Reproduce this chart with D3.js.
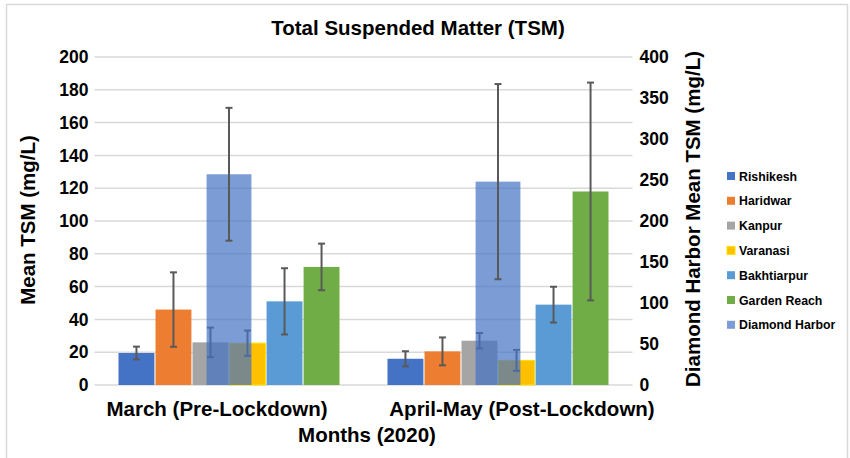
<!DOCTYPE html>
<html>
<head>
<meta charset="utf-8">
<script src="https://cdn.jsdelivr.net/npm/d3@7"></script>
<style>
  html, body { margin: 0; padding: 0; background: #fff; }
  svg text { font-family: "Liberation Sans", Arial, sans-serif; font-weight: bold; fill: #000; }
</style>
</head>
<body>
<div id="chart"></div>
<script>
// categories and series
const months = ["March (Pre-Lockdown)", "April-May (Post-Lockdown)"];
const sites = ["Rishikesh", "Haridwar", "Kanpur", "Varanasi", "Bakhtiarpur", "Garden Reach"];
const siteColors = ["#4472C4", "#ED7D31", "#A5A5A5", "#FFC000", "#5B9BD5", "#70AD47"];

// primary axis values (mg/L), one entry per site
const meanMarch = [19.5, 46, 26, 25.5, 51, 72];
const errMarch  = [3.9, 22.7, 9, 7.7, 20.2, 14.2];
const meanApril = [16, 20.5, 27, 15, 49, 118];
const errApril  = [4.6, 8.5, 4.7, 6.4, 10.9, 66.4];

// secondary axis (Diamond Harbor), one entry per month
const diamondMean = [257, 248];
const diamondErr  = [81, 119];

const leftTicks = [0, 20, 40, 60, 80, 100, 120, 140, 160, 180, 200];
const rightTicks = [0, 50, 100, 150, 200, 250, 300, 350, 400];

const width = 850, height = 458;
const plot = { left: 94.5, right: 632.5, top: 57, bottom: 385 };

const svg = d3.select("#chart").append("svg")
  .attr("width", width)
  .attr("height", height);

// chart frame
svg.append("rect")
  .attr("x", 6.5).attr("y", 4.5)
  .attr("width", 841).attr("height", 470)
  .attr("fill", "#fff")
  .attr("stroke", "#D9D9D9")
  .attr("stroke-width", 1.5);

const y = d3.scaleLinear().domain([0, 200]).range([plot.bottom, plot.top]);
const y2 = d3.scaleLinear().domain([0, 400]).range([plot.bottom, plot.top]);

const x0 = d3.scaleBand().domain(months).range([plot.left, plot.right]);
const groupWidth = 221;
const x1 = d3.scaleBand().domain(sites).range([0, groupWidth]).paddingInner(0.03);
const dWidth = x0.bandwidth() / 6;

// gridlines
svg.append("g")
  .selectAll("line")
  .data(leftTicks)
  .enter().append("line")
  .attr("x1", plot.left).attr("x2", plot.right)
  .attr("y1", d => y(d)).attr("y2", d => y(d))
  .attr("stroke", "#D9D9D9")
  .attr("stroke-width", 1.5);

// left axis labels
svg.append("g")
  .attr("transform", `translate(${plot.left - 6},0)`)
  .call(d3.axisLeft(y).tickValues(leftTicks).tickSize(0).tickPadding(0))
  .call(g => g.select(".domain").remove())
  .selectAll("text")
  .style("font-size", "17.5px");

// right axis labels
svg.append("g")
  .attr("transform", `translate(${plot.right + 7},0)`)
  .call(d3.axisRight(y2).tickValues(rightTicks).tickSize(0).tickPadding(0))
  .call(g => g.select(".domain").remove())
  .selectAll("text")
  .style("font-size", "17.5px");

svg.selectAll(".tick text").attr("fill", "#000");

// primary bars
const rows = [];
months.forEach((m, mi) => {
  const means = mi === 0 ? meanMarch : meanApril;
  const errs = mi === 0 ? errMarch : errApril;
  sites.forEach((s, si) => rows.push({ month: m, site: s, i: si, v: means[si], e: errs[si] }));
});

const gx = m => x0(m) + (x0.bandwidth() - groupWidth) / 2;

svg.append("g")
  .selectAll("rect")
  .data(rows)
  .enter().append("rect")
  .attr("x", d => gx(d.month) + x1(d.site))
  .attr("y", d => y(d.v))
  .attr("width", x1.bandwidth())
  .attr("height", d => y(0) - y(d.v))
  .attr("fill", d => siteColors[d.i])
  .attr("stroke", d => d.site === "Varanasi" ? "#FFE000" : "none")
  .attr("stroke-width", 1);

function errorBars(sel, data, cx, yScale) {
  const g = sel.append("g").attr("stroke", "#595959").attr("stroke-width", 2);
  data.forEach(d => {
    const x = cx(d);
    g.append("line").attr("x1", x).attr("x2", x)
      .attr("y1", yScale(d.v - d.e)).attr("y2", yScale(d.v + d.e));
    [d.v - d.e, d.v + d.e].forEach(v => {
      g.append("line").attr("x1", x - 3.5).attr("x2", x + 3.5)
        .attr("y1", yScale(v)).attr("y2", yScale(v));
    });
  });
}

errorBars(svg, rows, d => gx(d.month) + x1(d.site) + x1.bandwidth() / 2, y);

// Diamond Harbor on secondary axis, drawn over the rest
const drows = months.map((m, i) => ({ month: m, v: diamondMean[i], e: diamondErr[i] }));

svg.append("g")
  .selectAll("rect")
  .data(drows)
  .enter().append("rect")
  .attr("x", d => x0(d.month) + x0.bandwidth() / 2 - dWidth / 2)
  .attr("y", d => y2(d.v))
  .attr("width", dWidth)
  .attr("height", d => y2(0) - y2(d.v))
  .attr("fill", "#4472C4")
  .attr("fill-opacity", 0.7);

errorBars(svg, drows, d => x0(d.month) + x0.bandwidth() / 2, y2);

// category labels
const labelShift = [-12, 24];
svg.append("g")
  .selectAll("text")
  .data(months)
  .enter().append("text")
  .attr("x", (d, i) => x0(d) + x0.bandwidth() / 2 + labelShift[i])
  .attr("y", 416)
  .attr("text-anchor", "middle")
  .style("font-size", "20.5px")
  .text(d => d);

// titles
svg.append("text")
  .attr("x", 418).attr("y", 35)
  .attr("text-anchor", "middle")
  .style("font-size", "20.5px")
  .text("Total Suspended Matter (TSM)");

svg.append("text")
  .attr("x", 367).attr("y", 442)
  .attr("text-anchor", "middle")
  .style("font-size", "20.5px")
  .text("Months (2020)");

svg.append("text")
  .attr("transform", "translate(35,220) rotate(-90)")
  .attr("text-anchor", "middle")
  .style("font-size", "20.5px")
  .text("Mean TSM (mg/L)");

svg.append("text")
  .attr("transform", "translate(700,219) rotate(-90)")
  .attr("text-anchor", "middle")
  .style("font-size", "20.5px")
  .text("Diamond Harbor Mean TSM (mg/L)");

// legend
const legendNames = sites.concat(["Diamond Harbor"]);
const legend = svg.append("g").attr("transform", "translate(727,176)");
legendNames.forEach((name, i) => {
  const row = legend.append("g").attr("transform", `translate(0,${i * 24.8})`);
  const sq = row.append("rect").attr("x", 0).attr("y", -4).attr("width", 8).attr("height", 8);
  if (i < sites.length) {
    sq.attr("fill", siteColors[i]);
    if (name === "Varanasi") sq.attr("stroke", "#FFE000").attr("stroke-width", 1);
  } else {
    sq.attr("fill", "#4472C4").attr("fill-opacity", 0.7);
  }
  row.append("text").attr("x", 12).attr("y", 4.5)
    .style("font-size", "12.3px")
    .text(name);
});
</script>
</body>
</html>
